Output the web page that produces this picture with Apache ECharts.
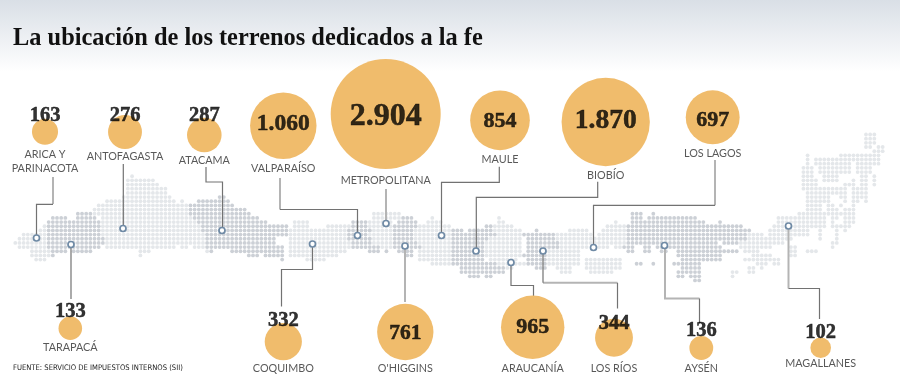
<!DOCTYPE html>
<html>
<head>
<meta charset="utf-8">
<title>Terrenos</title>
<script src="https://cdn.jsdelivr.net/npm/echarts@6/dist/echarts.min.js"></script>
<style>
  html, body { margin: 0; padding: 0; background: #fff; }
  #chart { width: 900px; height: 392px; }
</style>
</head>
<body>
<div id="chart"></div>
<script>
// valores por region
var regiones = ['ARICA Y\nPARINACOTA', 'TARAPACÁ', 'ANTOFAGASTA', 'ATACAMA', 'COQUIMBO', 'VALPARAÍSO', 'METROPOLITANA', "O'HIGGINS", 'MAULE', 'BIOBÍO', 'ARAUCANÍA', 'LOS RÍOS', 'LOS LAGOS', 'AYSÉN', 'MAGALLANES'];
var valores = [163, 133, 276, 287, 332, 1060, 2904, 761, 854, 1870, 965, 344, 697, 136, 102];
var etiquetas = ['163', '133', '276', '287', '332', '1.060', '2.904', '761', '854', '1.870', '965', '344', '697', '136', '102'];

// ubicacion en el lienzo (eje oculto 0-900 / 0-392)
var burbujaX = [45, 70.3, 125, 204.3, 283.3, 283.3, 385.7, 405.3, 500, 605.7, 532.7, 614, 712.7, 701.3, 820.7];
var burbujaY = [131.7, 328.3, 132, 135, 341.7, 125.7, 114, 332, 120.3, 122, 327.3, 337.7, 117.3, 348, 347.7];
var numeroY = [116, 312, 115.3, 116, 320.3, 124.3, 117, 333.7, 121, 121, 327.7, 323.3, 120.3, 331, 332.7];
var numeroSize = [20.5, 20.5, 20.5, 20.5, 20.5, 23.5, 32, 21.5, 22, 27.5, 22, 20.5, 22, 20.5, 20.5];
var nombreY = [162, 348, 156.7, 160.3, 368.3, 169, 180.7, 368.3, 160, 175.3, 368.3, 368.3, 153.3, 368.3, 364];
var puntoX = [36.5, 71, 123, 222, 312.5, 357.5, 386, 405, 441.5, 476, 511, 543, 593.5, 664.5, 788.5];
var puntoY = [238, 244.5, 228.5, 230.5, 244, 235.5, 223.5, 246, 235.5, 251, 262.5, 251, 247.5, 245.5, 226];

// lineas guia
var guiaGruesa = [
  [[53, 177], [53, 204]],
  [[280, 178], [280, 209.5]],
  [[386, 189], [386, 221]],
  [[405, 249], [405, 302]],
  [[715, 160], [715, 205.3]],
  [[665, 249], [665, 298.5], [699.5, 298.5]],
  [[788.5, 229], [788.5, 288.5]],
  [[543, 282.8], [617.5, 282.8]]
];
var guiaFina = [
  [[53, 204.3], [36.5, 204.3], [36.5, 235]],
  [[71, 247], [71, 299]],
  [[123.3, 164], [123.3, 226]],
  [[206, 167], [206, 182], [222.5, 182], [222.5, 228]],
  [[280, 209.5], [357.5, 209.5], [357.5, 233]],
  [[499.3, 166.7], [499.3, 182.3], [441.5, 182.3], [441.5, 233]],
  [[597.7, 181.7], [597.7, 197.3], [476.3, 197.3], [476.3, 248]],
  [[715, 205.3], [593.5, 205.3], [593.5, 245]],
  [[312.5, 247], [312.5, 269.5], [281.5, 269.5], [281.5, 306.5]],
  [[511, 265], [511, 285.5], [533.5, 285.5], [533.5, 296]],
  [[543, 254], [543, 282.8]],
  [[617.5, 282.8], [617.5, 308.5]],
  [[699.5, 298.5], [699.5, 323]],
  [[788.5, 288.5], [819.5, 288.5], [819.5, 319]]
];

// mapa de puntos: fila, columna inicial, columna final
var puntosClaros = [
  [10,28,28],[11,27,33],[12,27,34],[13,27,36],[14,27,36],[15,26,37],[16,22,38],[16,40,40],[17,20,41],[18,19,41],[19,19,41],
  [20,21,42],[21,21,43],[22,21,44],[23,21,44],[24,21,45],[25,22,45],[26,22,45],[27,22,38],[27,40,41],[27,43,45],[28,30,32],[28,46,46],[29,30,30],
  [22,7,7],[23,6,7],[24,2,7],[25,1,7],[26,0,7],[27,1,7],[28,4,8],[29,4,8],[30,5,7],
  [21,67,70],[22,67,70],[22,75,80],[23,66,79],[24,66,79],[25,66,79],[26,66,80],[27,66,80],[28,66,79],[29,66,77],[30,70,74],
  [19,86,92],[20,86,92],[21,85,90],[22,85,90],[23,85,90],[24,85,90],[25,85,90],[26,86,90],[27,88,90],
  [20,100,100],[21,99,102],[22,97,104],[23,96,104],[24,96,104],[25,96,104],[26,97,104],[27,98,104],[28,97,104],[29,97,104],[30,97,104],[31,100,104],
  [20,116,116],[21,116,117],[22,115,119],[23,115,121],[24,116,121],[25,114,121],[26,113,121],[27,113,121],[28,113,121],[29,113,121],[30,114,120],[31,116,122],[32,118,119],
  [21,144,144],[22,142,146],[23,133,137],[23,141,146],[24,130,138],[24,140,146],[25,130,146],[26,130,146],[27,130,137],[27,140,142],[27,144,145],
  [28,128,135],[29,128,135],[30,128,135],[30,137,145],[31,128,135],[31,137,145],[32,130,133],[32,137,145],[33,131,133],[33,138,143],
  [0,204,206],[1,204,206],[2,204,206],[3,204,205],[3,207,208],[4,206,208],[5,190,190],[5,198,207],[6,190,190],[6,192,207],
  [7,190,190],[7,192,200],[7,202,207],[8,189,191],[8,193,200],[8,202,205],[9,189,191],[9,193,200],[9,202,205],
  [10,189,191],[10,194,197],[10,203,204],[10,206,206],[11,189,192],[11,194,197],[11,201,201],[11,203,204],[11,206,206],
  [12,189,192],[12,199,201],[12,203,204],[12,206,206],[13,189,199],[13,201,204],[14,190,199],[14,201,204],
  [15,190,195],[15,198,199],[15,201,204],[16,190,195],[16,199,199],[16,201,202],[16,204,204],[17,190,193],[17,195,196],[17,198,198],[17,201,201],
  [18,190,193],[18,195,197],[18,199,201],[19,188,194],[19,195,201],[20,183,194],[20,196,197],[20,199,201],[21,183,194],[21,196,196],[21,199,201],
  [22,182,194],[22,196,200],[23,181,190],[23,193,193],[23,197,197],[23,199,199],[24,176,179],[24,181,190],[24,193,193],[24,197,197],
  [25,175,186],[25,193,193],[25,197,197],[26,174,184],[26,196,197],[27,174,177],[27,178,181],[27,186,187],[27,196,196],
  [28,175,178],[28,186,187],[28,190,192],[29,177,181],[29,186,187],[30,175,181],[30,182,183],[31,178,180],[31,182,183],[32,176,177],[32,179,179],[33,172,173],[33,176,177],[34,172,172]
];
var puntosOscuros = [
  [15,49,50],[16,44,51],[17,42,52],[18,42,55],[19,42,56],[20,43,58],[21,44,60],[22,45,65],[23,45,65],[24,46,65],[25,46,62],[26,46,62],[27,46,64],[28,47,47],[28,52,64],[29,56,58],[29,60,64],[30,64,64],
  [19,15,18],[20,9,12],[20,15,19],[21,8,20],[22,8,20],[23,8,20],[24,8,20],[25,8,21],[26,8,21],[27,8,20],[28,9,12],[28,14,18],[29,9,9],
  [21,81,84],[22,81,84],[23,80,85],[24,80,84],[25,80,85],[26,81,85],[27,81,87],[28,85,87],[28,89,89],
  [20,93,95],[21,92,96],[22,91,96],[23,91,95],[24,91,95],[25,91,95],[26,91,96],[27,91,97],[28,92,95],[29,94,95],
  [22,113,114],[23,105,107],[23,109,114],[24,105,115],[25,105,113],[26,105,112],[27,105,112],[28,105,112],[29,105,112],[30,105,112],[31,105,115],[32,107,117],[33,107,117],[34,109,111],[34,113,114],
  [23,125,125],[24,122,129],[25,123,129],[26,123,130],[27,123,130],[28,123,127],[29,122,127],[30,123,127],[31,123,127],[32,125,127],
  [19,148,150],[19,153,153],[20,148,150],[20,152,163],[21,148,165],[21,169,169],[22,147,174],[23,147,176],[24,147,175],[25,147,175],
  [26,147,168],[26,170,173],[27,146,148],[27,151,152],[27,154,169],[28,147,148],[28,151,152],[28,155,156],[28,159,169],[28,170,173],
  [29,159,169],[30,160,169],[31,149,150],[31,153,153],[31,158,164],[32,160,164],[33,159,164],[34,159,160],[34,162,164],[35,163,164]
];

var mapaX0 = 15.3, mapaY0 = 134.5, paso = 4.17;

function celdas(tramos) {
  var salida = [];
  tramos.forEach(function (t) {
    for (var c = t[1]; c <= t[2]; c++) {
      salida.push([mapaX0 + c * paso, mapaY0 + t[0] * paso]);
    }
  });
  return salida;
}

function polilineas(lista) {
  return lista.map(function (p) { return { coords: p }; });
}

var burbujas = valores.map(function (v, i) { return [burbujaX[i], burbujaY[i], v]; });
var puntos = puntoX.map(function (x, i) { return [x, puntoY[i]]; });
var numeros = etiquetas.map(function (t, i) {
  return { value: [burbujaX[i], numeroY[i]], name: t, label: { fontSize: numeroSize[i] } };
});
var nombres = regiones.map(function (t, i) {
  return { value: [burbujaX[i], nombreY[i]], name: t };
});

var chart = echarts.init(document.getElementById('chart'), null, { renderer: 'canvas' });

var option = {
  animation: false,
  backgroundColor: '#fff',
  title: [
    {
      text: 'La ubicación de los terrenos dedicados a la fe',
      left: 13,
      top: 27,
      padding: 0,
      textStyle: { fontFamily: 'Liberation Serif', fontWeight: 'bold', fontSize: 24.4, color: '#111' }
    },
    {
      text: 'FUENTE: SERVICIO DE IMPUESTOS INTERNOS (SII)',
      left: 13,
      top: 364,
      padding: 0,
      textStyle: { fontFamily: 'DejaVu Sans Condensed', fontWeight: 'normal', fontSize: 7.6, color: '#222' }
    }
  ],
  graphic: [
    {
      type: 'rect',
      z: -10,
      silent: true,
      shape: { x: 0, y: 0, width: 900, height: 72 },
      style: {
        fill: new echarts.graphic.LinearGradient(0, 0, 0, 1, [
          { offset: 0, color: '#d9dfe6' },
          { offset: 1, color: '#ffffff' }
        ])
      }
    }
  ],
  grid: { left: 0, right: 0, top: 0, bottom: 0 },
  xAxis: { type: 'value', min: 0, max: 900, show: false },
  yAxis: { type: 'value', min: 0, max: 392, inverse: true, show: false },
  series: [
    { type: 'scatter', silent: true, symbolSize: 3.8, itemStyle: { color: '#e4e7ea', opacity: 1 }, data: celdas(puntosClaros), z: 1 },
    { type: 'scatter', silent: true, symbolSize: 3.8, itemStyle: { color: '#ccd0d6', opacity: 1 }, data: celdas(puntosOscuros), z: 1 },
    {
      type: 'lines', coordinateSystem: 'cartesian2d', polyline: true, silent: true, z: 2,
      lineStyle: { color: '#b4b4b4', width: 2, opacity: 1, curveness: 0 },
      data: polilineas(guiaGruesa)
    },
    {
      type: 'lines', coordinateSystem: 'cartesian2d', polyline: true, silent: true, z: 2,
      lineStyle: { color: '#727272', width: 1.2, opacity: 1, curveness: 0 },
      data: polilineas(guiaFina)
    },
    {
      type: 'scatter', silent: true, z: 3, symbolSize: 6,
      itemStyle: { color: '#fff', borderColor: '#6f8aa5', borderWidth: 1.7, opacity: 1 },
      data: puntos
    },
    {
      type: 'scatter', silent: true, z: 4,
      encode: { x: 0, y: 1 },
      symbolSize: function (val) { return 110 * Math.sqrt(val[2] / 2904); },
      itemStyle: { color: '#f0bc6c', opacity: 1 },
      data: burbujas
    },
    {
      type: 'scatter', silent: true, z: 5, symbolSize: 1,
      itemStyle: { color: 'transparent' },
      label: {
        show: true, position: 'inside', formatter: '{b}', color: '#000',
        fontFamily: 'Liberation Serif', fontWeight: 'bold',
        textBorderColor: '#000', textBorderWidth: 0.5
      },
      data: numeros
    },
    {
      type: 'scatter', silent: true, z: 5, symbolSize: 1,
      itemStyle: { color: 'transparent' },
      label: {
        show: true, position: 'inside', formatter: '{b}', color: '#2e2e2e', lineHeight: 14,
        fontFamily: 'Lato', fontSize: 10.8
      },
      data: nombres
    }
  ]
};

chart.setOption(option);
</script>
</body>
</html>
